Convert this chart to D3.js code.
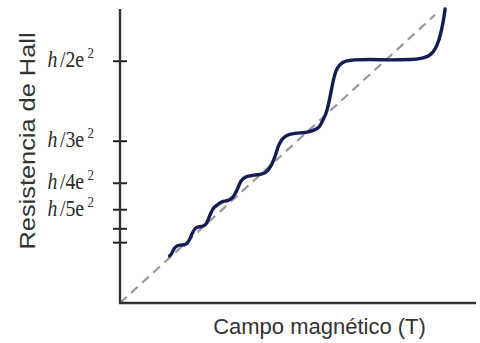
<!DOCTYPE html>
<html>
<head>
<meta charset="utf-8">
<script src="https://cdn.jsdelivr.net/npm/d3@7"></script>
<style>
  body { margin: 0; background: #fff; }
  .serif { font-family: "Liberation Serif", "DejaVu Serif", serif; }
</style>
</head>
<body>
<div id="wrapper"></div>
<script>
// Hall curve (arbitrary units)
const fieldB = [1.67, 1.74, 1.82, 1.92, 2.04, 2.16, 2.26, 2.34,
                2.43, 2.53, 2.65, 2.80, 2.92, 3.02,
                3.14, 3.27, 3.44, 3.64, 3.81, 3.94,
                4.08, 4.25, 4.52, 4.79, 4.99, 5.12,
                5.23, 5.33, 5.46, 5.63, 5.90, 6.24, 6.51, 6.71,
                6.84, 6.98, 7.08, 7.18, 7.28, 7.42, 7.62, 7.92, 8.43, 9.10, 9.78, 10.18, 10.45, 10.62, 10.75, 10.85, 10.92, 10.96]
const hallR  = [1.60, 1.68, 1.84, 1.94, 1.97, 1.98, 2.03, 2.15,
                2.36, 2.53, 2.59, 2.62, 2.72, 2.96,
                3.21, 3.33, 3.44, 3.49, 3.61, 3.84,
                4.15, 4.29, 4.35, 4.39, 4.52, 4.73,
                5.00, 5.31, 5.56, 5.70, 5.77, 5.80, 5.87, 5.99,
                6.22, 6.57, 7.01, 7.52, 7.89, 8.11, 8.23, 8.27, 8.28, 8.27, 8.28, 8.33, 8.44, 8.64, 8.95, 9.35, 9.73, 10.0]

// classical (dashed) line
const trendB = [0, 10.62]
const trendR = [0, 9.80]

// y ticks (plateau levels) and their labels
const tickValues = [8.24, 5.52, 4.09, 3.19, 2.54, 2.07]
const tickLabels = ["2", "3", "4", "5", "", ""]

async function drawChart() {

    const dimensions = {
        width: 480,
        height: 343,
        margin: { top: 9, right: 4, bottom: 40, left: 120 },
    }
    dimensions.boundedWidth = dimensions.width - dimensions.margin.left - dimensions.margin.right
    dimensions.boundedHeight = dimensions.height - dimensions.margin.top - dimensions.margin.bottom

    const wrapper = d3.select("#wrapper")
        .append("svg")
        .attr("width", dimensions.width)
        .attr("height", dimensions.height)

    const bounds = wrapper.append("g")
        .attr("transform", `translate(${dimensions.margin.left},${dimensions.margin.top})`)

    const xScale = d3.scaleLinear()
        .domain([0, 12])
        .range([0, dimensions.boundedWidth])

    const yScale = d3.scaleLinear()
        .domain([0, 10])
        .range([dimensions.boundedHeight, 0])

    // dashed classical line
    const trend = trendB.map((b, i) => ({ b: b, r: trendR[i] }))
    bounds.append("path")
        .datum(trend)
        .attr("fill", "none")
        .attr("stroke", "#9a9a9a")
        .attr("stroke-width", 2.2)
        .attr("stroke-dasharray", "9,6")
        .attr("d", d3.line().x(d => xScale(d.b)).y(d => yScale(d.r)))

    // Hall curve
    const hall = fieldB.map((b, i) => ({ b: b, r: hallR[i] }))
    bounds.append("path")
        .datum(hall)
        .attr("fill", "none")
        .attr("stroke", "#141c55")
        .attr("stroke-width", 3.4)
        .attr("stroke-linecap", "round")
        .attr("stroke-linejoin", "round")
        .attr("d", d3.line()
            .x(d => xScale(d.b))
            .y(d => yScale(d.r))
            .curve(d3.curveMonotoneX))

    // axes
    const yAxis = bounds.append("g")
        .call(d3.axisLeft(yScale).tickValues(tickValues).tickFormat("").tickSize(7).tickSizeOuter(0))
    yAxis.select(".domain").remove()
    yAxis.selectAll(".tick line")
        .attr("x1", -7)
        .attr("x2", 7)
        .attr("stroke", "#222")
        .attr("stroke-width", 2)

    const sx = 0.86
    yAxis.selectAll(".tick")
        .append("text")
        .attr("class", "serif")
        .attr("transform", `scale(${sx},1)`)
        .attr("x", -26 / sx)
        .attr("y", 6)
        .attr("text-anchor", "end")
        .attr("fill", "#2a2a2a")
        .attr("font-family", "Liberation Serif")
        .style("font-size", "23px")
        .each(function(d, i) {
            if (!tickLabels[i]) return
            const t = d3.select(this)
            t.append("tspan").style("font-style", "italic").text("h")
            t.append("tspan").attr("dx", 3).text("/" + tickLabels[i] + "e")
            t.append("tspan").attr("dx", 4).attr("dy", -9).style("font-size", "15px").text("2")
        })

    bounds.append("line")
        .attr("x1", 0).attr("x2", 0)
        .attr("y1", yScale(10)).attr("y2", yScale(0))
        .attr("stroke", "#333")
        .attr("stroke-width", 2.4)

    bounds.append("line")
        .attr("x1", -1).attr("x2", dimensions.boundedWidth)
        .attr("y1", yScale(0)).attr("y2", yScale(0))
        .attr("stroke", "#333")
        .attr("stroke-width", 2.6)

    // axis titles
    bounds.append("text")
        .attr("x", (211 + 428) / 2 - dimensions.margin.left)
        .attr("y", dimensions.boundedHeight + 31)
        .attr("text-anchor", "middle")
        .attr("fill", "#333")
        .style("font-family", "'Liberation Sans', Arial, sans-serif")
        .style("font-size", "22px")
        .text("Campo magnético (T)")

    wrapper.append("text")
        .attr("transform", "translate(35,141) rotate(-90)")
        .attr("text-anchor", "middle")
        .attr("fill", "#333")
        .style("font-family", "'Liberation Sans', Arial, sans-serif")
        .style("font-size", "22px")
        .attr("textLength", 217)
        .attr("lengthAdjust", "spacingAndGlyphs")
        .text("Resistencia de Hall")
}
drawChart()
</script>
</body>
</html>
